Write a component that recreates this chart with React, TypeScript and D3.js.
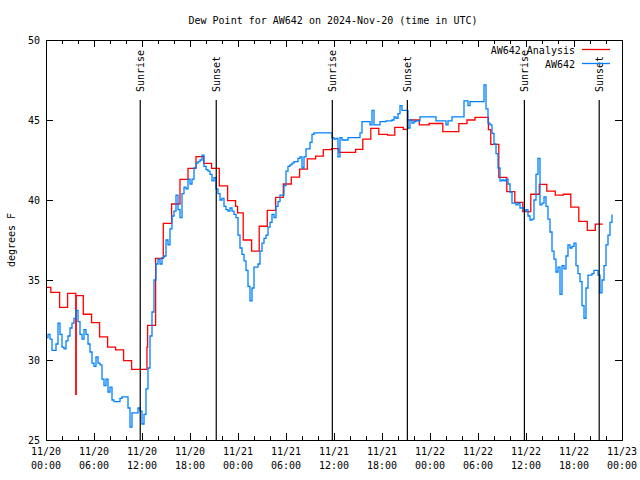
import React from "react";
import * as d3 from "d3";

const TITLE = "Dew Point for AW642 on 2024-Nov-20 (time in UTC)";
const Y_LABEL = "degrees F";
const START = Date.UTC(2024, 10, 20, 0, 0);
const END = Date.UTC(2024, 10, 23, 0, 0);
const yDomain = [25, 50];
const yTicks = [25, 30, 35, 40, 45, 50];
const seriesNames = ["AW642 Analysis", "AW642"];
const seriesColors = ["#ff0000", "#0080ff"];

const sunLabels = ["Sunrise", "Sunset", "Sunrise", "Sunset", "Sunrise", "Sunset"];
const sunHours = [11.78, 21.28, 35.79, 45.17, 59.8, 69.15];

// Analysis (hourly step values): change time in hours since start, value after change
const redHours = [
  0, 0.6, 1.7, 2.7, 3.72, 3.78, 4.66, 5.7, 6.7, 7.7, 8.7, 9.7, 10.7, 12.62, 12.7,
  13.7, 14.66, 15.7, 16.75, 17.75, 18.75, 19.7, 20.7, 21.66, 22.7, 23.7, 23.95,
  24.65, 25.7, 26.65, 27.66, 28.7, 29.66, 30.66, 31.7, 32.66, 33.7, 34.66, 35.7,
  36.6, 38.7, 39.6, 40.6, 41.6, 42.7, 43.6, 44.66, 45.2, 46.66, 47.9, 49.6, 51.6,
  52.62, 53.62, 55.3, 55.6, 56.6, 57.6, 58.6, 59.6, 60.6, 61.66, 62.6, 63.66,
  64.66, 65.6, 66.6, 67.66, 68.66, 69.6,
];
const redValues = [
  34.54, 34.23, 33.29, 34.17, 27.86, 34.02, 32.86, 32.33, 31.45, 30.8, 30.63, 29.96, 29.42, 30.8, 32.17,
  36.35, 38.54, 39.75, 41.29, 41.98, 42.71, 42.29, 41.98, 40.88, 39.96, 39.6, 39.2,
  37.5, 36.81, 38.36, 39.35, 40.17, 41.0, 41.43, 41.93, 42.57, 42.74, 43.15, 43.21,
  42.98, 43.17, 43.8, 44.48, 44.1, 44.06, 44.54, 44.42, 45.0, 44.7, 44.78, 44.27, 44.77,
  45.0, 45.17, 44.4, 43.48, 41.42, 40.52, 39.85, 39.27, 40.36, 40.98, 40.56, 40.31,
  40.36, 39.55, 38.67, 38.1, 38.49, 38.49,
];

// Station observations every 15 minutes from the start
const blueStepMinutes = 15;
const blueValues = [
  31.4, 31.6, 31.3, 30.6, 30.6, 31.0, 32.3, 31.6,
  30.8, 30.7, 31.2, 31.5, 32.0, 32.3, 32.6, 33.1,
  32.4, 31.6, 31.3, 31.9, 31.6, 31.0, 30.5, 29.8,
  29.6, 30.2, 29.8, 29.7, 28.8, 28.4, 28.8, 28.0,
  28.3, 27.5, 27.4, 27.4, 27.4, 27.6, 27.7, 27.7,
  27.7, 27.0, 25.8, 26.7, 26.7, 26.7, 27.0, 26.8,
  26.0, 26.6, 28.2, 29.5, 31.5, 33.0, 35.0, 36.0,
  36.3, 36.0, 36.4, 36.5, 37.5, 37.2, 38.2, 39.0,
  39.3, 40.3, 39.4, 38.9, 40.4, 40.8, 40.7, 41.3,
  41.0, 41.3, 42.0, 42.3, 42.4, 42.5, 42.8, 42.1,
  41.9, 41.8, 41.6, 41.2, 41.4, 40.7, 40.4, 40.0,
  40.1, 39.6, 39.4, 39.3, 39.5, 39.3, 39.1, 38.9,
  37.8, 37.0, 36.6, 36.2, 35.6, 34.6, 33.7, 34.5,
  35.8, 35.8, 36.0, 36.8, 37.3, 37.6, 37.8, 38.3,
  38.6, 39.1, 38.9, 39.6, 39.9, 40.3, 40.3, 40.9,
  41.8, 42.1, 42.2, 42.3, 42.4, 42.4, 42.6, 42.7,
  42.0, 42.7, 43.2, 43.2, 43.6, 44.1, 44.2, 44.2,
  44.2, 44.2, 44.2, 44.2, 44.2, 44.2, 44.2, 43.9,
  43.8, 43.85, 42.7, 43.9, 43.75, 43.75, 43.75, 43.9,
  43.9, 43.9, 43.9, 43.9, 43.9, 44.2, 44.9, 44.9,
  44.9, 44.9, 44.7, 45.6, 44.7, 44.7, 44.7, 44.9,
  44.9, 44.9, 44.94, 44.94, 44.94, 45.0, 45.2, 45.1,
  45.4, 45.9, 45.6, 45.6, 45.6, 44.5, 45.0, 44.8,
  44.9, 44.94, 44.94, 45.2, 45.2, 45.2, 45.2, 45.2,
  45.2, 45.2, 45.2, 44.94, 44.94, 44.94, 44.94, 44.94,
  44.7, 44.94, 44.94, 45.2, 45.2, 45.2, 45.2, 45.2,
  45.2, 46.2, 46.2, 45.9, 46.15, 46.15, 46.15, 46.15,
  46.15, 46.15, 46.15, 47.19, 45.7, 44.8, 44.7, 44.17,
  43.5, 42.9, 42.0, 41.2, 41.25, 41.2, 41.3, 41.0,
  40.5, 39.8, 39.8, 39.7, 39.8, 39.5, 39.5, 39.3,
  39.4, 39.0, 38.75, 38.8, 40.0, 41.6, 42.6, 39.7,
  39.8, 40.2, 39.6, 38.8, 38.0, 36.8, 36.3, 35.5,
  35.8, 34.1, 35.9, 35.7, 36.5, 37.2, 37.0, 37.1,
  37.3, 35.9, 35.4, 34.9, 33.4, 32.6, 34.5, 35.3,
  35.3, 35.4, 35.6, 35.6, 35.3, 34.2, 35.0, 35.9,
  37.2, 37.8, 38.6, 39.1,
];

const SUN_LINE_TOP = 0.85; // fraction of plot height
const SUN_LABEL_POS = 0.87;

type Pt = { t: Date; v: number };

export default function App() {
  const W = 640;
  const H = 480;
  const M = { l: 46, r: 18, t: 40, b: 40 };
  const font = "'DejaVu Sans Mono', monospace";
  const fs = 10;

  const x = d3.scaleUtc().domain([new Date(START), new Date(END)]).range([M.l, W - M.r]);
  const y = d3.scaleLinear().domain(yDomain).range([H - M.b, M.t]);
  const toDate = (h: number) => new Date(START + h * 3600000);

  const redData: Pt[] = redHours.map((h, i) => ({ t: toDate(h), v: redValues[i] }));
  const blueData: Pt[] = blueValues.map((v, i) => ({ t: toDate((i * blueStepMinutes) / 60), v }));

  const line = d3
    .line<Pt>()
    .x((d) => x(d.t))
    .y((d) => y(d.v))
    .curve(d3.curveStepAfter);

  const majorTicks = x.ticks(d3.utcHour.every(6)!);
  const minorTicks = x.ticks(d3.utcHour.every(2)!);
  const fmtDate = d3.utcFormat("%m/%d");
  const fmtTime = d3.utcFormat("%H:%M");

  const top = M.t;
  const bottom = H - M.b;
  const left = M.l;
  const right = W - M.r;
  const plotH = bottom - top;

  return (
    <svg
      width={W}
      height={H}
      style={{ position: "absolute", left: 0, top: 0, background: "#fff" }}
      fontFamily={font}
      fontSize={fs}
    >
      <rect x={0} y={0} width={W} height={H} fill="#fff" />
      <text x={333} y={23.5} textAnchor="middle" fill="#000">
        {TITLE}
      </text>

      {yTicks.map((v) => (
        <g key={"y" + v} shapeRendering="crispEdges">
          <line x1={left} x2={left + 7} y1={y(v)} y2={y(v)} stroke="#000" />
          <line x1={right} x2={right - 7} y1={y(v)} y2={y(v)} stroke="#000" />
          <text x={left - 6} y={y(v)} dy="0.35em" textAnchor="end" fill="#000" shapeRendering="auto">
            {v}
          </text>
        </g>
      ))}

      {minorTicks.map((d) => (
        <g key={"m" + d.getTime()} shapeRendering="crispEdges">
          <line x1={x(d)} x2={x(d)} y1={bottom} y2={bottom - 4} stroke="#000" />
          <line x1={x(d)} x2={x(d)} y1={top} y2={top + 4} stroke="#000" />
        </g>
      ))}
      {majorTicks.map((d) => (
        <g key={"M" + d.getTime()}>
          <line x1={x(d)} x2={x(d)} y1={bottom} y2={bottom - 7} stroke="#000" shapeRendering="crispEdges" />
          <line x1={x(d)} x2={x(d)} y1={top} y2={top + 7} stroke="#000" shapeRendering="crispEdges" />
          <text x={x(d)} y={455} textAnchor="middle" fill="#000">
            {fmtDate(d)}
          </text>
          <text x={x(d)} y={469} textAnchor="middle" fill="#000">
            {fmtTime(d)}
          </text>
        </g>
      ))}

      <text
        transform={`translate(15,${(top + bottom) / 2}) rotate(-90)`}
        textAnchor="middle"
        fill="#000"
      >
        {Y_LABEL}
      </text>

      <path d={line(redData) || ""} fill="none" stroke={seriesColors[0]} strokeWidth={1.3} />
      <path d={line(blueData) || ""} fill="none" stroke={seriesColors[1]} strokeWidth={1.3} />

      {sunHours.map((h, i) => {
        const sx = x(toDate(h));
        return (
          <g key={"s" + i}>
            <line
              x1={sx}
              x2={sx}
              y1={bottom}
              y2={bottom - SUN_LINE_TOP * plotH}
              stroke="#000"
              strokeWidth={1.2}
            />
            <text
              transform={`translate(${sx + 3.5},${bottom - SUN_LABEL_POS * plotH}) rotate(-90)`}
              textAnchor="start"
              fill="#000"
            >
              {sunLabels[i]}
            </text>
          </g>
        );
      })}

      {seriesNames.map((name, i) => (
        <g key={"lg" + i}>
          <text x={575} y={53.5 + i * 14} textAnchor="end" fill="#000">
            {name}
          </text>
          <line x1={582} x2={610} y1={49.5 + i * 14} y2={49.5 + i * 14} stroke={seriesColors[i]} strokeWidth={1.3} />
        </g>
      ))}

      <rect
        x={left}
        y={top}
        width={right - left}
        height={bottom - top}
        fill="none"
        stroke="#000"
        shapeRendering="crispEdges"
      />
    </svg>
  );
}
